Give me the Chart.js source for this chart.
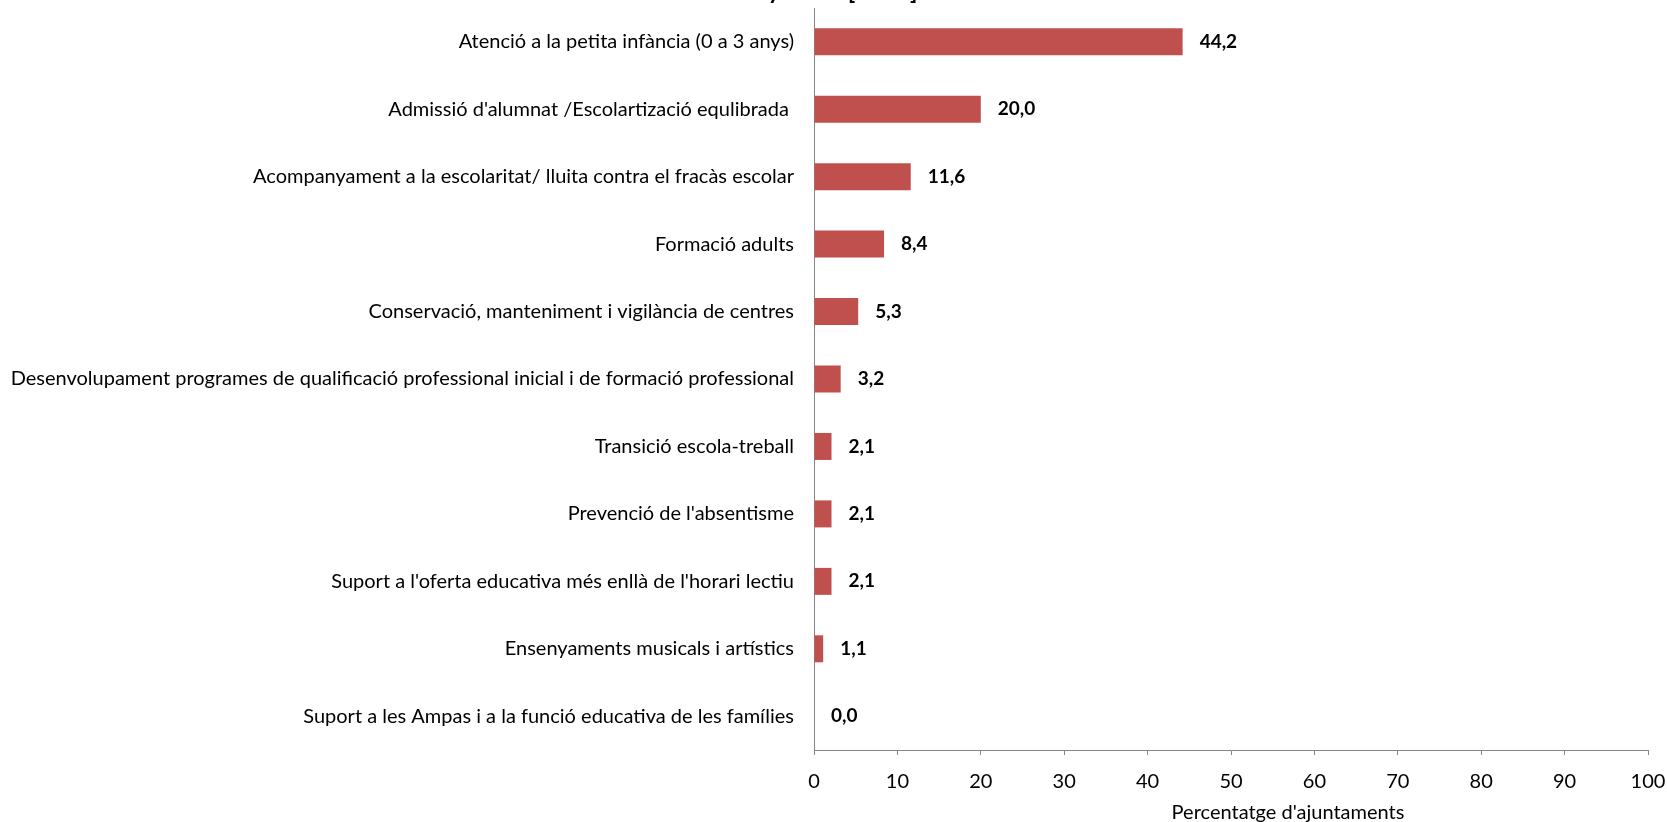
<!DOCTYPE html>
<html>
<head>
<meta charset="utf-8">
<script src="https://cdn.jsdelivr.net/npm/chart.js@4"></script>
<style>
  body { margin: 0; background: #fff; }
  #wrap { position: relative; width: 1667px; height: 822px; overflow: hidden; }
</style>
</head>
<body>
<div id="wrap"><canvas id="chart" width="1667" height="822"></canvas></div>
<script>
const categories = [
  "Atenció a la petita infància (0 a 3 anys)",
  "Admissió d'alumnat /Escolartizació equlibrada ",
  "Acompanyament a la escolaritat/ lluita contra el fracàs escolar",
  "Formació adults",
  "Conservació, manteniment i vigilància de centres",
  "Desenvolupament programes de qualificació professional inicial i de formació professional",
  "Transició escola-treball",
  "Prevenció de l'absentisme",
  "Suport a l'oferta educativa més enllà de l'horari lectiu",
  "Ensenyaments musicals i artístics",
  "Suport a les Ampas i a la funció educativa de les famílies"
];
const values = [44.2, 20.0, 11.6, 8.4, 5.3, 3.2, 2.1, 2.1, 2.1, 1.1, 0.0];
const xTicks = [0, 10, 20, 30, 40, 50, 60, 70, 80, 90, 100];

const chartTitle = "any 2009 [n=95]";
const xTitle = "Percentatge d'ajuntaments";
const FONT = "Lato";

// value labels to the right of each bar + titles
const extras = {
  id: 'extras',
  afterDatasetsDraw(chart) {
    const ctx = chart.ctx;
    ctx.save();
    ctx.fillStyle = '#000';
    ctx.font = `bold 19px ${FONT}`;
    ctx.textAlign = 'left';
    ctx.textBaseline = 'middle';
    chart.getDatasetMeta(0).data.forEach((bar, i) => {
      ctx.fillText(values[i].toFixed(1).replace('.', ','), bar.x + 17, bar.y);
    });

    ctx.font = `20px ${FONT}`;
    ctx.textAlign = 'center';
    ctx.fillText(xTitle, 1288, 813);

    // chart title, mostly above the visible area
    ctx.font = `bold 24px ${FONT}`;
    ctx.textBaseline = 'alphabetic';
    ctx.fillText(chartTitle, 830, -1);
    ctx.restore();
  }
};

new Chart(document.getElementById('chart'), {
  type: 'bar',
  data: {
    labels: categories,
    datasets: [{
      data: values,
      backgroundColor: '#C0504D',
      borderWidth: 0,
      barPercentage: 0.4,
      categoryPercentage: 1
    }]
  },
  options: {
    indexAxis: 'y',
    responsive: false,
    animation: false,
    layout: { padding: { top: 8, right: 19, left: 0, bottom: 0 } },
    plugins: {
      legend: { display: false },
      tooltip: { enabled: false }
    },
    scales: {
      x: {
        min: 0,
        max: 100,
        afterFit: s => { s.height = 72; s.paddingLeft = 0; s.paddingRight = 0; },
        afterBuildTicks: s => { s.ticks = xTicks.map(v => ({ value: v })); },
        grid: { drawOnChartArea: false, drawTicks: true, tickLength: 5, color: '#868686' },
        border: { color: '#868686', width: 1 },
        ticks: { color: '#000', font: { family: FONT, size: 20 }, padding: 15 }
      },
      y: {
        afterFit: s => { s.width = 814; s.paddingTop = 0; s.paddingBottom = 0; },
        grid: { display: false, drawTicks: false },
        border: { display: true, color: '#868686', width: 1 },
        ticks: { color: '#000', font: { family: FONT, size: 20 }, padding: 20, autoSkip: false }
      }
    }
  },
  plugins: [extras]
});
</script>
</body>
</html>
